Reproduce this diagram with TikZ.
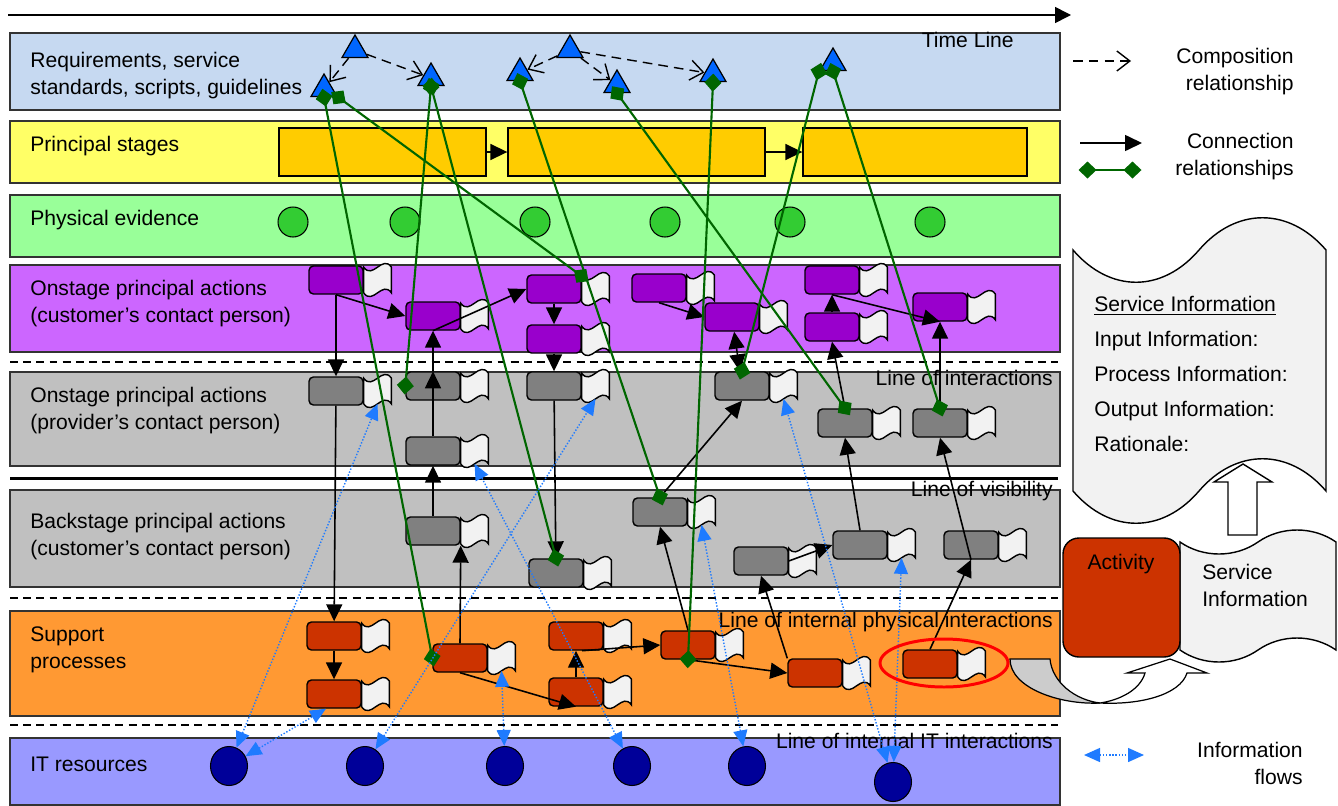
\documentclass[tikz,border=0pt]{standalone}
\usepackage{fontspec}
\setmainfont{Liberation Sans}
\usetikzlibrary{arrows.meta, shapes.geometric}

\definecolor{reqblue}{HTML}{C6D9F1}
\definecolor{stageyellow}{HTML}{FFFF66}
\definecolor{stageorange}{HTML}{FFCC00}
\definecolor{evidgreen}{HTML}{99FF99}
\definecolor{evidcircle}{HTML}{33CC33}
\definecolor{onlilac}{HTML}{CC66FF}
\definecolor{onpurple}{HTML}{9900CC}
\definecolor{lanegray}{HTML}{C0C0C0}
\definecolor{actgray}{HTML}{808080}
\definecolor{suporange}{HTML}{FF9933}
\definecolor{suprust}{HTML}{CC3300}
\definecolor{itlav}{HTML}{9999FF}
\definecolor{itnavy}{HTML}{000099}
\definecolor{triblue}{HTML}{0066FF}
\definecolor{relgreen}{HTML}{006600}
\definecolor{flowblue}{HTML}{1F7BFF}
\definecolor{paper}{HTML}{F2F2F2}
\definecolor{curvegray}{HTML}{CCCCCC}

% little wavy document to the right of an activity
\newcommand{\actflag}[1]{%
  \node[flagspot, anchor=west] (#1f) at (#1.east) {};
  \draw[flagline] (#1f.north west) .. controls +(9,13) and +(-9,-13) .. (#1f.north east)
    -- (#1f.south east) .. controls +(-9,-13) and +(9,13) .. (#1f.south west) -- cycle;}

\begin{document}
\begin{tikzpicture}[
    x=0.02cm, y=-0.02cm,
    font=\fontsize{12pt}{15.4pt}\selectfont,
    lane/.style={draw=black!80, line width=0.6pt},
    sepline/.style={dash pattern=on 4.5pt off 3pt, line width=1.1pt},
    lbl/.style={inner sep=0pt, align=left},
    stagebox/.style={draw, fill=stageorange, line width=0.8pt, minimum height=0.96cm, inner sep=0pt},
    evid/.style={circle, draw, fill=evidcircle, minimum size=0.6cm, inner sep=0pt, line width=0.6pt},
    itres/.style={ellipse, draw, fill=itnavy, minimum width=0.74cm, minimum height=0.78cm, inner sep=0pt, line width=0.6pt},
    tri/.style={regular polygon, regular polygon sides=3, draw, fill=triblue, minimum size=0.6cm, inner sep=0pt, line width=0.7pt},
    act/.style={draw, rounded corners=2.5pt, line width=0.8pt, minimum width=1.08cm, minimum height=0.56cm, inner sep=0pt},
    actP/.style={act, fill=onpurple},
    actG/.style={act, fill=actgray},
    actO/.style={act, fill=suprust},
    flagspot/.style={minimum width=0.54cm, minimum height=0.5cm, inner sep=0pt},
    flagline/.style={draw, fill=paper, line width=0.8pt},
    conn/.style={-{Triangle[length=3.4mm,width=3.2mm]}, line width=0.9pt},
    connboth/.style={{Triangle[length=3.4mm,width=3.2mm]}-{Triangle[length=3.4mm,width=3.2mm]}, line width=0.9pt},
    comp/.style={-{Straight Barb[length=2.6mm,width=4mm]}, dash pattern=on 5.5pt off 3.5pt, line width=0.8pt},
    rel/.style={{Diamond[length=3.6mm,width=3.4mm]}-{Diamond[length=3.6mm,width=3.4mm]}, relgreen,
                line width=1.2pt, shorten <=-1.7mm, shorten >=-1.7mm},
    flow/.style={{Triangle[length=3.2mm,width=2.8mm]}-{Triangle[length=3.2mm,width=2.8mm]}, flowblue,
                 densely dotted, line width=0.8pt},
    docline/.style={draw, fill=paper, line width=0.8pt},
  ]
  \useasboundingbox (0,0) rectangle (1338,805);

  % time line
  \coordinate (tl0) at (8,15);
  \coordinate (tl1) at (1071,15);
  \draw[-{Triangle[length=3.2mm,width=3.2mm]}, line width=0.9pt] (tl0) -- (tl1);

  % swim lanes
  \draw[lane, fill=reqblue]     (10,33)  rectangle (1060,110);
  \draw[lane, fill=stageyellow] (10,121) rectangle (1060,183);
  \draw[lane, fill=evidgreen]   (10,195) rectangle (1060,257);
  \draw[lane, fill=onlilac]     (10,265) rectangle (1060,352);
  \draw[lane, fill=lanegray]    (10,372) rectangle (1060,466);
  \draw[lane, fill=lanegray]    (10,490) rectangle (1060,587);
  \draw[lane, fill=suporange]   (10,611) rectangle (1060,716);
  \draw[lane, fill=itlav]       (10,738) rectangle (1060,805);

  \draw[sepline] (10,362) -- (1058,362);
  \draw[line width=1.7pt] (10,478) -- (1058,478);
  \draw[sepline] (10,598) -- (1058,598);
  \draw[sepline] (10,725) -- (1058,725);

  % lane titles
  \node[lbl, anchor=west] (lreq) at (30,75.5) {Requirements, service\\standards, scripts, guidelines};
  \node[lbl, anchor=west] (lstage) at (30,146) {Principal stages};
  \node[lbl, anchor=west] (levid) at (30,220) {Physical evidence};
  \node[lbl, anchor=west] (lon) at (30,304) {Onstage principal actions\\(customer’s contact person)};
  \node[lbl, anchor=west] (lprov) at (30,410.5) {Onstage principal actions\\(provider’s contact person)};
  \node[lbl, anchor=west] (lback) at (30,536.5) {Backstage principal actions\\(customer’s contact person)};
  \node[lbl, anchor=west] (lsup) at (30,649.5) {Support\\processes};
  \node[lbl, anchor=west] (lit) at (30,764) {IT resources};

  \node[lbl, anchor=east] (ltime) at (1014,40) {Time Line};
  \node[lbl, anchor=east] (linter) at (1053,378) {Line of interactions};
  \node[lbl, anchor=east] (lvis) at (1053,491) {Line of visibility};
  \node[lbl, anchor=east] (lphys) at (1053,622) {Line of internal physical interactions};
  \node[lbl, anchor=east] (litint) at (1053,741) {Line of internal IT interactions};

  % principal stages
  \node[stagebox, minimum width=4.14cm] (S1) at (382.5,152) {};
  \node[stagebox, minimum width=5.14cm] (S2) at (636.5,152) {};
  \node[stagebox, minimum width=4.48cm] (S3) at (915,152) {};
  \draw[conn] (S1) -- (S2);
  \draw[conn] (S2) -- (S3);

  % physical evidence
  \node[evid] (E1) at (293,222) {};
  \node[evid] (E2) at (405,222) {};
  \node[evid] (E3) at (535,222) {};
  \node[evid] (E4) at (665,222) {};
  \node[evid] (E5) at (790,222) {};
  \node[evid] (E6) at (930,222) {};

  % requirements
  \node[tri] (T1) at (324,89) {};
  \node[tri] (T2) at (355,50) {};
  \node[tri] (T3) at (431,78) {};
  \node[tri] (T4) at (520,73) {};
  \node[tri] (T5) at (570,50) {};
  \node[tri] (T6) at (617,85) {};
  \node[tri] (T7) at (713,74) {};
  \node[tri] (T8) at (833,63) {};
  \draw[comp] (T2) -- (T1);
  \draw[comp] (T2) -- (T3);
  \draw[comp] (T5) -- (T4);
  \draw[comp] (T5) -- (T6);
  \draw[comp] (T5) -- (T7);

  % activities
  \node[actP] (P1) at (336,280) {};
  \node[actP] (P2) at (433,316) {};
  \node[actP] (P3) at (554,289) {};
  \node[actP] (P4) at (554,339) {};
  \node[actP] (P5) at (659,288) {};
  \node[actP] (P6) at (732,317) {};
  \node[actP] (P7) at (832,280) {};
  \node[actP] (P8) at (832,327) {};
  \node[actP] (P9) at (940,307) {};
  \node[actG] (G1) at (336,391) {};
  \node[actG] (G2) at (433,386) {};
  \node[actG] (G3) at (433,451) {};
  \node[actG] (G4) at (554,386) {};
  \node[actG] (G5) at (742,386) {};
  \node[actG] (G6) at (845,423) {};
  \node[actG] (G7) at (940,423) {};
  \node[actG] (B1) at (433,531) {};
  \node[actG] (B2) at (556,573) {};
  \node[actG] (B3) at (660,512) {};
  \node[actG] (B4) at (761,561) {};
  \node[actG] (B5) at (860,545) {};
  \node[actG] (B6) at (971,545) {};
  \node[actO] (O1) at (334,636) {};
  \node[actO] (O2) at (334,694) {};
  \node[actO] (O3) at (460,658) {};
  \node[actO] (O4) at (576,636) {};
  \node[actO] (O5) at (576,692) {};
  \node[actO] (O6) at (688,645) {};
  \node[actO] (O7) at (815,673) {};
  \node[actO] (O8) at (930,664) {};
  \foreach \a in {P1,P2,P3,P4,P5,P6,P7,P8,P9,G1,G2,G3,G4,G5,G6,G7,
                  B1,B2,B3,B4,B5,B6,O1,O2,O3,O4,O5,O6,O7,O8}
    {\actflag{\a}}

  % IT resources
  \node[itres] (IT1) at (229,766) {};
  \node[itres] (IT2) at (365,766) {};
  \node[itres] (IT3) at (505,766) {};
  \node[itres] (IT4) at (632,766) {};
  \node[itres] (IT5) at (747,766) {};
  \node[itres] (IT6) at (893,782) {};

  % connection arrows
  \draw[conn] (P1) -- (G1);
  \draw[conn] (P1.south) -- (P2.west);
  \draw[conn] (P2.south) -- (P3.west);
  \draw[conn] (G3.north) -- (G2.north);
  \draw[conn] (G2.north) -- (P2.south);
  \draw[conn] (B1) -- (G3);
  \draw[conn] (O3.north) -- (B1.south east);
  \draw[conn] (P3) -- (P4);
  \draw[conn] (P4) -- (G4);
  \draw[conn] (G4) -- (B2);
  \draw[conn] (P5.south) -- (P6.west);
  \draw[connboth] (P6) -- (G5);
  \draw[conn] (B3.north) -- (G5.south);
  \draw[conn] (G6.north) -- (P8.south);
  \draw[conn] (P8) -- (P7);
  \draw[conn] (P7.south) -- (P9.south);
  \draw[conn] (G7) -- (P9);
  \draw[conn] (B5.north) -- (G6.south);
  \draw[conn] (B6.south) -- (G7.south);
  \draw[conn] (O8.north) -- (B6.south);
  \draw[conn] (G1) -- (O1);
  \draw[conn] (O1) -- (O2);
  \draw[conn] (O3.south) -- (O5.south);
  \draw[conn] (O5) -- (O4);
  \draw[conn] ([xshift=0.12cm]O4.south) -- (O6.west);
  \draw[conn] (O6.north) -- (B3.south);
  \draw[conn] (O6.south) -- (O7.west);
  \draw[conn] (O7.north west) -- (B4.south);
  \draw[conn] (B4.east) -- (B5.west);

  % connection relationships
  \draw[rel] (T1.south) -- (O3.west);
  \draw[rel] (T1.corner 3) -- (P3f.north west);
  \draw[rel] (T3.south) -- (G2.west);
  \draw[rel] (T3.south) -- (B2.north);
  \draw[rel] (T4.south) -- (B3.north);
  \draw[rel] (T6.south) -- (G6.north);
  \draw[rel] (T7.south) -- (O6.south);
  \draw[rel] (T8.corner 2) -- (G5.north);
  \draw[rel] (T8.south) -- (G7.north);

  % information flows
  \draw[flow] (IT1) -- (G1f.south);
  \draw[flow] (IT1) -- ([xshift=-0.16cm]O2.south);
  \draw[flow] (IT2) -- (G4f.south);
  \draw[flow] (IT3) -- (O3f.south);
  \draw[flow] (IT4) -- (G3f.south);
  \draw[flow] (IT5) -- (B3f.south);
  \draw[flow] (IT6) -- (G5f.south);
  \draw[flow] (IT6) -- (B5f.south);

  \node[draw=red, line width=1.7pt, ellipse, minimum width=2.56cm, minimum height=0.96cm, inner sep=0pt] (focus) at (944,663) {};

  % legend
  \coordinate (kcA) at (1073,61);
  \coordinate (kcB) at (1131,61);
  \draw[comp] (kcA) -- (kcB);
  \node[lbl, anchor=east, align=right] (kcomp) at (1294,71.5) {Composition\\relationship};
  \coordinate (kaA) at (1080,143);
  \coordinate (kaB) at (1142,143);
  \draw[conn] (kaA) -- (kaB);
  \coordinate (krA) at (1087,170);
  \coordinate (krB) at (1133,170);
  \draw[rel] (krA) -- (krB);
  \node[lbl, anchor=east, align=right] (kconn) at (1294,156.5) {Connection\\relationships};
  \coordinate (kfA) at (1084,755);
  \coordinate (kfB) at (1144,755);
  \draw[flow] (kfA) -- (kfB);
  \node[lbl, anchor=east, align=right] (kflow) at (1303,763) {Information\\flows};

  % service information sheet
  \draw[docline] (1073,250) .. controls (1110,293) and (1162,293) .. (1199,250)
    .. controls (1236,207) and (1289,207) .. (1326,250) -- (1326,491)
    .. controls (1289,448) and (1236,448) .. (1199,491)
    .. controls (1162,534) and (1110,534) .. (1073,491) -- cycle;
  \node[lbl, anchor=west, font=\fontsize{12pt}{19.8pt}\selectfont] (sheet) at (1094,374)
    {\underline{Service Information}\\Input Information:\\Process Information:\\Output Information:\\Rationale:};
  \draw[draw, fill=white, line width=0.8pt] (1228,535) -- (1228,482) -- (1214,482) -- (1243,464)
    -- (1272,482) -- (1257,482) -- (1257,535) -- cycle;

  % activity with its document
  \draw[docline] (1180,542) .. controls (1203,558) and (1235,558) .. (1258,542)
    .. controls (1281,526) and (1313,526) .. (1336,542) -- (1336,650)
    .. controls (1313,634) and (1281,634) .. (1258,650)
    .. controls (1235,666) and (1203,666) .. (1180,650) -- cycle;
  \node[act, fill=suprust, rounded corners=9pt, minimum width=2.34cm, minimum height=2.38cm] (actkey) at (1121.5,597.5) {};
  \node[lbl] (actkeytxt) at (1121,564) {Activity};
  \node[lbl, anchor=west] (sikey) at (1202,585) {Service\\Information};

  % curved arrow out of the circled activity
  \draw[fill=curvegray, line width=0.7pt] (1010,659) -- (1050,659)
    .. controls (1052,682) and (1075,700) .. (1100,703)
    .. controls (1060,705) and (1010,688) .. (1010,659) -- cycle;
  \draw[fill=white, line width=0.7pt] (1100,703) .. controls (1140,705) and (1180,695) .. (1187,673)
    -- (1207,673) -- (1170,659) -- (1127,673) -- (1145,673)
    .. controls (1140,690) and (1120,700) .. (1100,703) -- cycle;
\end{tikzpicture}
\end{document}
